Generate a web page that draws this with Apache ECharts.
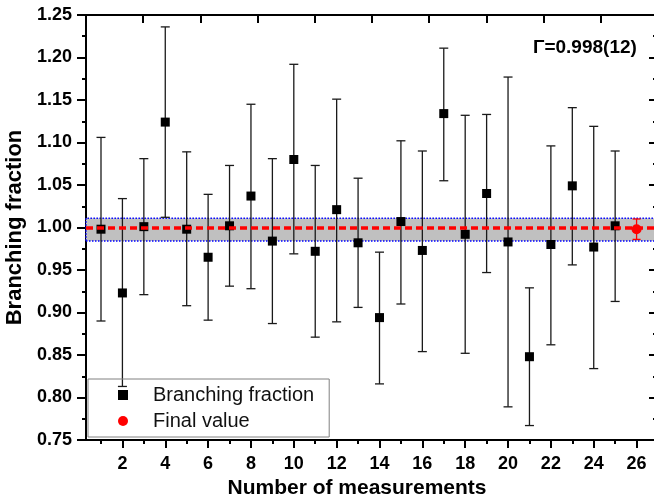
<!DOCTYPE html>
<html>
<head>
<meta charset="UTF-8">
<title></title>
<script src="https://cdn.jsdelivr.net/npm/echarts@6/dist/echarts.min.js"></script>
<style>
html, body { margin: 0; padding: 0; background: #fff; }
#chart { width: 654px; height: 502px; }
</style>
</head>
<body>
<div id="chart"></div>
<script>
var measNo = [1, 2, 3, 4, 5, 6, 7, 8, 9, 10, 11, 12, 13, 14, 15, 16, 17, 18, 19, 20, 21, 22, 23, 24, 25];
var measValue = [0.998, 0.923, 1.001, 1.124, 0.998, 0.965, 1.002, 1.037, 0.984, 1.080, 0.972, 1.021, 0.982,
                 0.894, 1.007, 0.973, 1.134, 0.992, 1.040, 0.983, 0.848, 0.980, 1.049, 0.977, 1.002];
var measLow = [0.890, 0.813, 0.921, 1.012, 0.908, 0.891, 0.931, 0.928, 0.887, 0.969, 0.871, 0.889, 0.906,
               0.816, 0.910, 0.854, 1.055, 0.852, 0.947, 0.789, 0.767, 0.862, 0.956, 0.834, 0.913];
var measHigh = [1.106, 1.034, 1.081, 1.236, 1.089, 1.039, 1.073, 1.145, 1.081, 1.192, 1.073, 1.151, 1.058,
                0.971, 1.102, 1.090, 1.211, 1.132, 1.133, 1.177, 0.929, 1.096, 1.141, 1.119, 1.090];

var finalNo = [26];
var finalValue = [0.998];
var finalLow = [0.986];
var finalHigh = [1.010];

var bandLow = 0.984;
var bandHigh = 1.011;

var xTickValues = [2, 4, 6, 8, 10, 12, 14, 16, 18, 20, 22, 24, 26];
var xMinorValues = [1, 3, 5, 7, 9, 11, 13, 15, 17, 19, 21, 23, 25];

var font = 'Arial, "Liberation Sans", sans-serif';

var pts = measNo.map(function (n, i) { return [n, measValue[i]]; });
var bars = measNo.map(function (n, i) { return [n, measLow[i], measHigh[i]]; });
var finalPts = finalNo.map(function (n, i) { return [n, finalValue[i]]; });
var finalBars = finalNo.map(function (n, i) { return [n, finalLow[i], finalHigh[i]]; });

function errorBar(color, cap, width) {
    return function (params, api) {
        var x = api.value(0);
        var lo = api.coord([x, api.value(1)]);
        var hi = api.coord([x, api.value(2)]);
        var st = { stroke: color, lineWidth: width };
        return {
            type: 'group',
            children: [
                { type: 'line', shape: { x1: lo[0], y1: lo[1], x2: hi[0], y2: hi[1] }, style: st },
                { type: 'line', shape: { x1: hi[0] - cap, y1: hi[1], x2: hi[0] + cap, y2: hi[1] }, style: st },
                { type: 'line', shape: { x1: lo[0] - cap, y1: lo[1], x2: lo[0] + cap, y2: lo[1] }, style: st }
            ]
        };
    };
}

var myChart = echarts.init(document.getElementById('chart'));
myChart.setOption({
    backgroundColor: '#fff',
    animation: false,
    // the frame runs a few pixels past the right edge, like the original crop
    grid: { left: 86, width: 572, top: 15, bottom: 62, outerBoundsMode: 'none' },
    legend: {
        orient: 'vertical',
        left: 88,
        top: 379,
        padding: [6, 15, 6, 30],
        itemGap: 6,
        itemWidth: 10,
        itemHeight: 10,
        borderColor: '#808080',
        borderWidth: 1,
        textStyle: { fontFamily: font, fontSize: 20, color: '#111', padding: [0, 0, 0, 20] },
        data: [
            { name: 'Branching fraction', icon: 'rect' },
            { name: 'Final value', icon: 'circle' }
        ]
    },
    graphic: [{
        type: 'text',
        left: 533,
        top: 38,
        style: { text: 'Γ=0.998(12)', font: 'bold 19px ' + font, fill: '#000' }
    }],
    xAxis: [{
        type: 'value',
        min: 0.3,
        max: 27,
        name: 'Number of measurements',
        nameLocation: 'middle',
        nameGap: 37,
        nameTextStyle: { fontFamily: font, fontWeight: 'bold', fontSize: 21, color: '#000', padding: [0, 30, 0, 0] },
        axisLine: { lineStyle: { color: '#000', width: 2 } },
        axisTick: { customValues: xTickValues, length: 8, lineStyle: { color: '#000', width: 2 } },
        axisLabel: { customValues: xTickValues, margin: 15, fontFamily: font, fontWeight: 'bold', fontSize: 18, color: '#000' },
        splitLine: { show: false }
    }, {
        // minor ticks on the odd numbers
        type: 'value',
        position: 'bottom',
        min: 0.3,
        max: 27,
        axisLine: { show: false },
        axisTick: { customValues: xMinorValues, length: 4, lineStyle: { color: '#000', width: 2 } },
        axisLabel: { show: false },
        splitLine: { show: false }
    }, {
        type: 'value',
        position: 'top',
        min: 0,
        max: 10,
        interval: 1,
        axisLine: { lineStyle: { color: '#000', width: 2 } },
        axisTick: { inside: true, length: 8, lineStyle: { color: '#000', width: 2 } },
        axisLabel: { show: false },
        splitLine: { show: false }
    }],
    yAxis: [{
        type: 'value',
        min: 0.75,
        max: 1.25,
        interval: 0.05,
        name: 'Branching fraction',
        nameLocation: 'middle',
        nameGap: 54,
        nameTextStyle: { fontFamily: font, fontWeight: 'bold', fontSize: 22, color: '#000' },
        axisLine: { show: true, lineStyle: { color: '#000', width: 2 } },
        axisTick: { show: true, length: 9, lineStyle: { color: '#000', width: 2 } },
        minorTick: { show: true, splitNumber: 2, length: 4, lineStyle: { color: '#000', width: 2 } },
        axisLabel: {
            margin: 14, fontFamily: font, fontWeight: 'bold', fontSize: 18, color: '#000',
            formatter: function (v) { return v.toFixed(2); }
        },
        splitLine: { show: false }
    }, {
        type: 'value',
        position: 'right',
        min: 0.75,
        max: 1.25,
        interval: 0.05,
        axisLine: { show: true, lineStyle: { color: '#000', width: 2 } },
        axisTick: { show: true, inside: true, length: 9, lineStyle: { color: '#000', width: 2 } },
        minorTick: { show: true, splitNumber: 2, length: 5, lineStyle: { color: '#000', width: 2 } },
        axisLabel: { show: false },
        splitLine: { show: false }
    }],
    series: [{
        // band and final value line
        type: 'line',
        name: 'band',
        data: [],
        z: 1,
        markArea: {
            silent: true,
            itemStyle: { color: '#c0c0c0', borderColor: '#0000ff', borderWidth: 1.5, borderType: 'dotted' },
            data: [[{ yAxis: bandLow }, { yAxis: bandHigh }]]
        },
        markLine: {
            silent: true,
            symbol: 'none',
            label: { show: false },
            lineStyle: { color: '#ff0000', width: 3.5, type: [7, 4] },
            data: [{ yAxis: finalValue[0] }]
        }
    }, {
        type: 'custom',
        name: 'bars',
        z: 3,
        renderItem: errorBar('#1a1a1a', 4.5, 1.3),
        data: bars
    }, {
        type: 'scatter',
        name: 'Branching fraction',
        symbol: 'rect',
        symbolSize: 9,
        z: 4,
        itemStyle: { color: '#000', opacity: 1 },
        data: pts
    }, {
        type: 'custom',
        name: 'finalBar',
        z: 3,
        renderItem: errorBar('#ff0000', 4, 1.3),
        data: finalBars
    }, {
        type: 'scatter',
        name: 'Final value',
        symbol: 'circle',
        symbolSize: 10,
        z: 4,
        itemStyle: { color: '#ff0000', opacity: 1 },
        data: finalPts
    }]
});
</script>
</body>
</html>
